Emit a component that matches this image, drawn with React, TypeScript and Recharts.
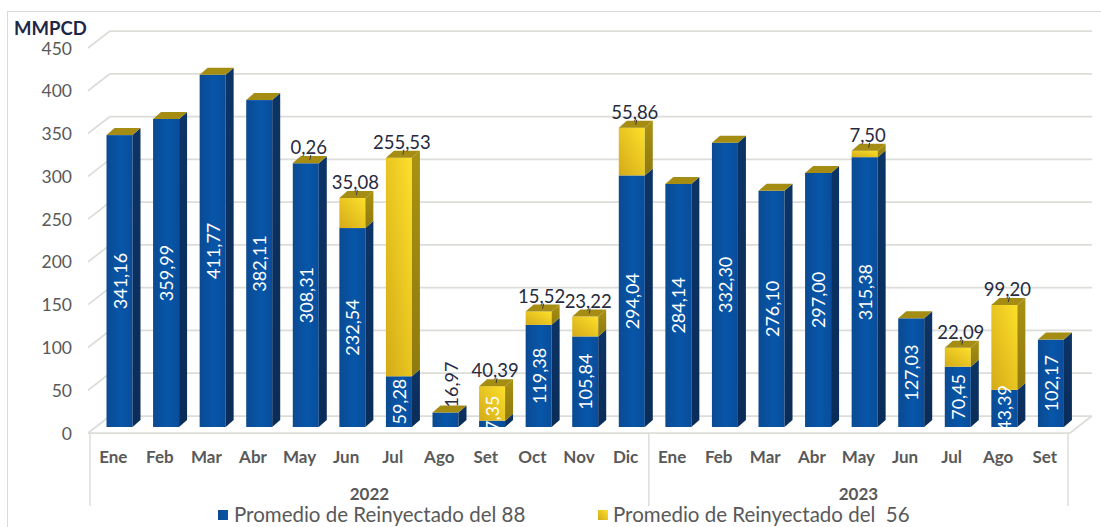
import React from 'react';
import { BarChart, Bar, XAxis, YAxis, CartesianGrid, LabelList } from 'recharts';

const months = ['Ene', 'Feb', 'Mar', 'Abr', 'May', 'Jun', 'Jul', 'Ago', 'Set', 'Oct', 'Nov', 'Dic', 'Ene', 'Feb', 'Mar', 'Abr', 'May', 'Jun', 'Jul', 'Ago', 'Set'];
const yearGroups = [
  { label: '2022', count: 12 },
  { label: '2023', count: 9 },
];
const reinyectado88 = [341.16, 359.99, 411.77, 382.11, 308.31, 232.54, 59.28, 16.97, 7.35, 119.38, 105.84, 294.04, 284.14, 332.3, 276.1, 297.0, 315.38, 127.03, 70.45, 43.39, 102.17];
const reinyectado56 = [0, 0, 0, 0, 0.26, 35.08, 255.53, 0, 40.39, 15.52, 23.22, 55.86, 0, 0, 0, 0, 7.5, 0, 22.09, 99.2, 0];
const seriesNames = ['Promedio de Reinyectado del 88', 'Promedio de Reinyectado del  56'];
const yTicks = [0, 50, 100, 150, 200, 250, 300, 350, 400, 450];
const unitLabel = 'MMPCD';

const data = months.map((m, i) => ({ id: `c${i}`, month: m, b88: reinyectado88[i], b56: reinyectado56[i] }));

const W = 1101;
const H = 527;
const PLOT_LEFT = 90;
const PLOT_RIGHT = 1068;
const PLOT_TOP = 42;
const PLOT_BOTTOM = 427;
const SHIFT = 6.5;
const DX = 8;
const DY = 7;
const FONT = "Lato, 'Open Sans', 'Noto Sans', sans-serif";
const GRID = '#dcdcd8';
const TEXT_GREY = '#595959';
const LABEL_DARK = '#262a40';
const TOP_FACE = '#a58c13';

const fmt = (v: number) => v.toFixed(2).replace('.', ',');
const textLen = (s: string) => {
  let l = 0;
  for (const ch of s) l += ch === ',' ? 4.3 : 10.4;
  return l;
};

const Defs = () => (
  <defs>
    <linearGradient id="gBlueFront" x1="0" y1="0" x2="1" y2="0">
      <stop offset="0" stopColor="#0b4a92" />
      <stop offset="0.55" stopColor="#0756a9" />
      <stop offset="1" stopColor="#094d9b" />
    </linearGradient>
    <linearGradient id="gBlueSide" x1="0" y1="0" x2="0" y2="1">
      <stop offset="0" stopColor="#0c3466" />
      <stop offset="1" stopColor="#0a2c58" />
    </linearGradient>
    <linearGradient id="gYelFront" x1="0" y1="1" x2="1" y2="0">
      <stop offset="0" stopColor="#d4aa18" />
      <stop offset="1" stopColor="#fde02a" />
    </linearGradient>
    <linearGradient id="gYelSide" x1="0" y1="0" x2="0" y2="1">
      <stop offset="0" stopColor="#a99112" />
      <stop offset="1" stopColor="#8f7a0e" />
    </linearGradient>
    <clipPath id="floorClip">
      <rect x={0} y={0} width={W} height={PLOT_BOTTOM} />
    </clipPath>
  </defs>
);

const makeShape = (kind: 'blue' | 'yellow') => (props: any) => {
  const { x, y, width, height, index } = props;
  if (x == null || y == null || width == null) return <g />;
  const h = Math.max(height || 0, 0);
  const val = kind === 'blue' ? reinyectado88[index] : reinyectado56[index];
  if (!val) return <g />;
  const fx = x + SHIFT;
  const rx = fx + width;
  const showTop = kind === 'yellow' || reinyectado56[index] === 0;
  return (
    <g>
      {index === 0 && <Defs />}
      <rect x={fx} y={y} width={width} height={h} fill={kind === 'blue' ? 'url(#gBlueFront)' : 'url(#gYelFront)'} />
      <polygon
        points={`${rx},${y} ${rx + DX},${y - DY} ${rx + DX},${y + h - DY} ${rx},${y + h}`}
        fill={kind === 'blue' ? 'url(#gBlueSide)' : 'url(#gYelSide)'}
      />
      {showTop && (
        <polygon points={`${fx},${y} ${fx + DX},${y - DY} ${rx + DX},${y - DY} ${rx},${y}`} fill={TOP_FACE} />
      )}
    </g>
  );
};

const box = (props: any) => {
  const vb = props.viewBox || {};
  return {
    x: props.x ?? vb.x,
    y: props.y ?? vb.y,
    width: props.width ?? vb.width,
    height: props.height ?? vb.height,
  };
};

const BlueLabel = (props: any) => {
  const { x, y, width, height } = box(props);
  const index = props.index;
  const value = reinyectado88[index];
  if (x == null || !value) return null;
  const text = fmt(value);
  const len = textLen(text);
  const cx = x + SHIFT + width / 2;
  if (reinyectado56[index] === 0 && height < len + 4) {
    return (
      <text
        transform={`translate(${cx + 5},${y - DY + 2}) rotate(-90)`}
        textAnchor="start"
        dominantBaseline="central"
        fontFamily={FONT}
        fontSize={18}
        fill={LABEL_DARK}
      >
        {text}
      </text>
    );
  }
  const cy = Math.min(y + height / 2, y + height + 4 - len / 2);
  return (
    <g clipPath="url(#floorClip)">
      <text
        transform={`translate(${cx},${cy}) rotate(-90)`}
        textAnchor="middle"
        dominantBaseline="central"
        fontFamily={FONT}
        fontSize={18}
        fill="#ffffff"
      >
        {text}
      </text>
    </g>
  );
};

const YellowLabel = (props: any) => {
  const { x, y, width } = box(props);
  const value = reinyectado56[props.index];
  if (x == null || !value) return null;
  const cx = x + SHIFT + width / 2;
  return (
    <g>
      <line x1={cx + 4} y1={y - 3} x2={cx + 5} y2={y - 8} stroke="#3a3a3a" strokeWidth={1} />
      <text x={cx + 3} y={y - 9} textAnchor="middle" fontFamily={FONT} fontSize={18.5} fill={LABEL_DARK}>
        {fmt(value)}
      </text>
    </g>
  );
};

const gridLine = (props: any) => {
  const { x1, x2, y1, index } = props;
  const y = y1;
  const fl = x1 - 2;
  const fy = y + 6;
  const bl = x1 + 20;
  const by = y - 11;
  const br = x2 + 24;
  const isFloor = Math.abs(y - PLOT_BOTTOM) < 1;
  return (
    <g key={`gl-${index}`}>
      <line x1={fl} y1={fy} x2={bl} y2={by} stroke={GRID} strokeWidth={1.75} />
      <line x1={bl} y1={by} x2={br} y2={by} stroke={GRID} strokeWidth={1.75} />
      {isFloor && (
        <>
          <line x1={fl} y1={fy} x2={x2 + 2} y2={fy} stroke={GRID} strokeWidth={1.75} />
          <line x1={x2 + 2} y1={fy} x2={br} y2={by} stroke={GRID} strokeWidth={1.75} />
        </>
      )}
    </g>
  );
};

const YTick = (props: any) => {
  const { y, payload } = props;
  return (
    <g>
      <text x={72} y={y + 6} textAnchor="end" dominantBaseline="central" fontFamily={FONT} fontSize={17.5} fill={TEXT_GREY}>
        {payload.value}
      </text>
      {payload.value === yTicks[yTicks.length - 1] && (
        <text x={14} y={y - 14} dominantBaseline="central" fontFamily={FONT} fontWeight={700} fontSize={18.5} fill="#1e2746">
          {unitLabel}
        </text>
      )}
    </g>
  );
};

const XTick = (props: any) => {
  const { x, payload } = props;
  const i = payload.index;
  const band = (PLOT_RIGHT - PLOT_LEFT) / months.length;
  const parts: any[] = [];
  let start = 0;
  yearGroups.forEach((g, gi) => {
    if (i === start) {
      parts.push(<line key={`s${gi}`} x1={x - band / 2} y1={433} x2={x - band / 2} y2={506} stroke={GRID} strokeWidth={1.5} />);
      parts.push(
        <text key={`y${gi}`} x={x - band / 2 + (g.count * band) / 2} y={500} textAnchor="middle" fontFamily={FONT} fontWeight={700} fontSize={17} fill={TEXT_GREY}>
          {g.label}
        </text>
      );
    }
    if (gi === yearGroups.length - 1 && i === start + g.count - 1) {
      parts.push(<line key={`e${gi}`} x1={x + band / 2} y1={433} x2={x + band / 2} y2={506} stroke={GRID} strokeWidth={1.5} />);
    }
    start += g.count;
  });
  return (
    <g>
      <text x={x} y={463} textAnchor="middle" fontFamily={FONT} fontWeight={700} fontSize={17} fill={TEXT_GREY}>
        {months[i]}
      </text>
      {parts}
    </g>
  );
};

export default function App() {
  return (
    <div style={{ position: 'absolute', left: 0, top: 0, width: W, height: H, background: '#fff', overflow: 'hidden' }}>
      <div
        style={{
          position: 'absolute',
          left: 7,
          top: 11,
          width: W - 7,
          height: H - 11,
          borderTop: '1px solid #d9d9d9',
          borderLeft: '1px solid #d9d9d9',
          boxSizing: 'border-box',
        }}
      />
      <div style={{ position: 'absolute', left: 0, top: 0 }}>
        <BarChart width={W} height={H} data={data} margin={{ top: PLOT_TOP, right: W - PLOT_RIGHT, bottom: 0, left: 0 }} barSize={26}>
          <CartesianGrid vertical={false} horizontal={gridLine} />
          <XAxis dataKey="id" height={H - PLOT_BOTTOM} interval={0} tickLine={false} axisLine={false} tick={XTick} />
          <YAxis width={PLOT_LEFT} domain={[0, 450]} ticks={yTicks} interval={0} tickLine={false} axisLine={false} tick={YTick} />
          <Bar dataKey="b88" stackId="a" isAnimationActive={false} shape={makeShape('blue')}>
            <LabelList dataKey="b88" content={BlueLabel} />
          </Bar>
          <Bar dataKey="b56" stackId="a" isAnimationActive={false} shape={makeShape('yellow')}>
            <LabelList dataKey="b56" content={YellowLabel} />
          </Bar>
        </BarChart>
      </div>
      <div style={{ position: 'absolute', left: 0, top: 503, width: W, height: 24, fontFamily: FONT, fontSize: 20.5, color: TEXT_GREY }}>
        <div style={{ position: 'absolute', left: 218, top: 7, width: 10, height: 10, background: 'linear-gradient(90deg,#0b4a92,#0756a9)' }} />
        <div style={{ position: 'absolute', left: 234, top: 0, lineHeight: '23px', whiteSpace: 'pre' }}>{seriesNames[0]}</div>
        <div style={{ position: 'absolute', left: 598, top: 7, width: 10, height: 10, background: 'linear-gradient(45deg,#d4aa18,#fde02a)' }} />
        <div style={{ position: 'absolute', left: 613, top: 0, lineHeight: '23px', whiteSpace: 'pre' }}>{seriesNames[1]}</div>
      </div>
    </div>
  );
}
